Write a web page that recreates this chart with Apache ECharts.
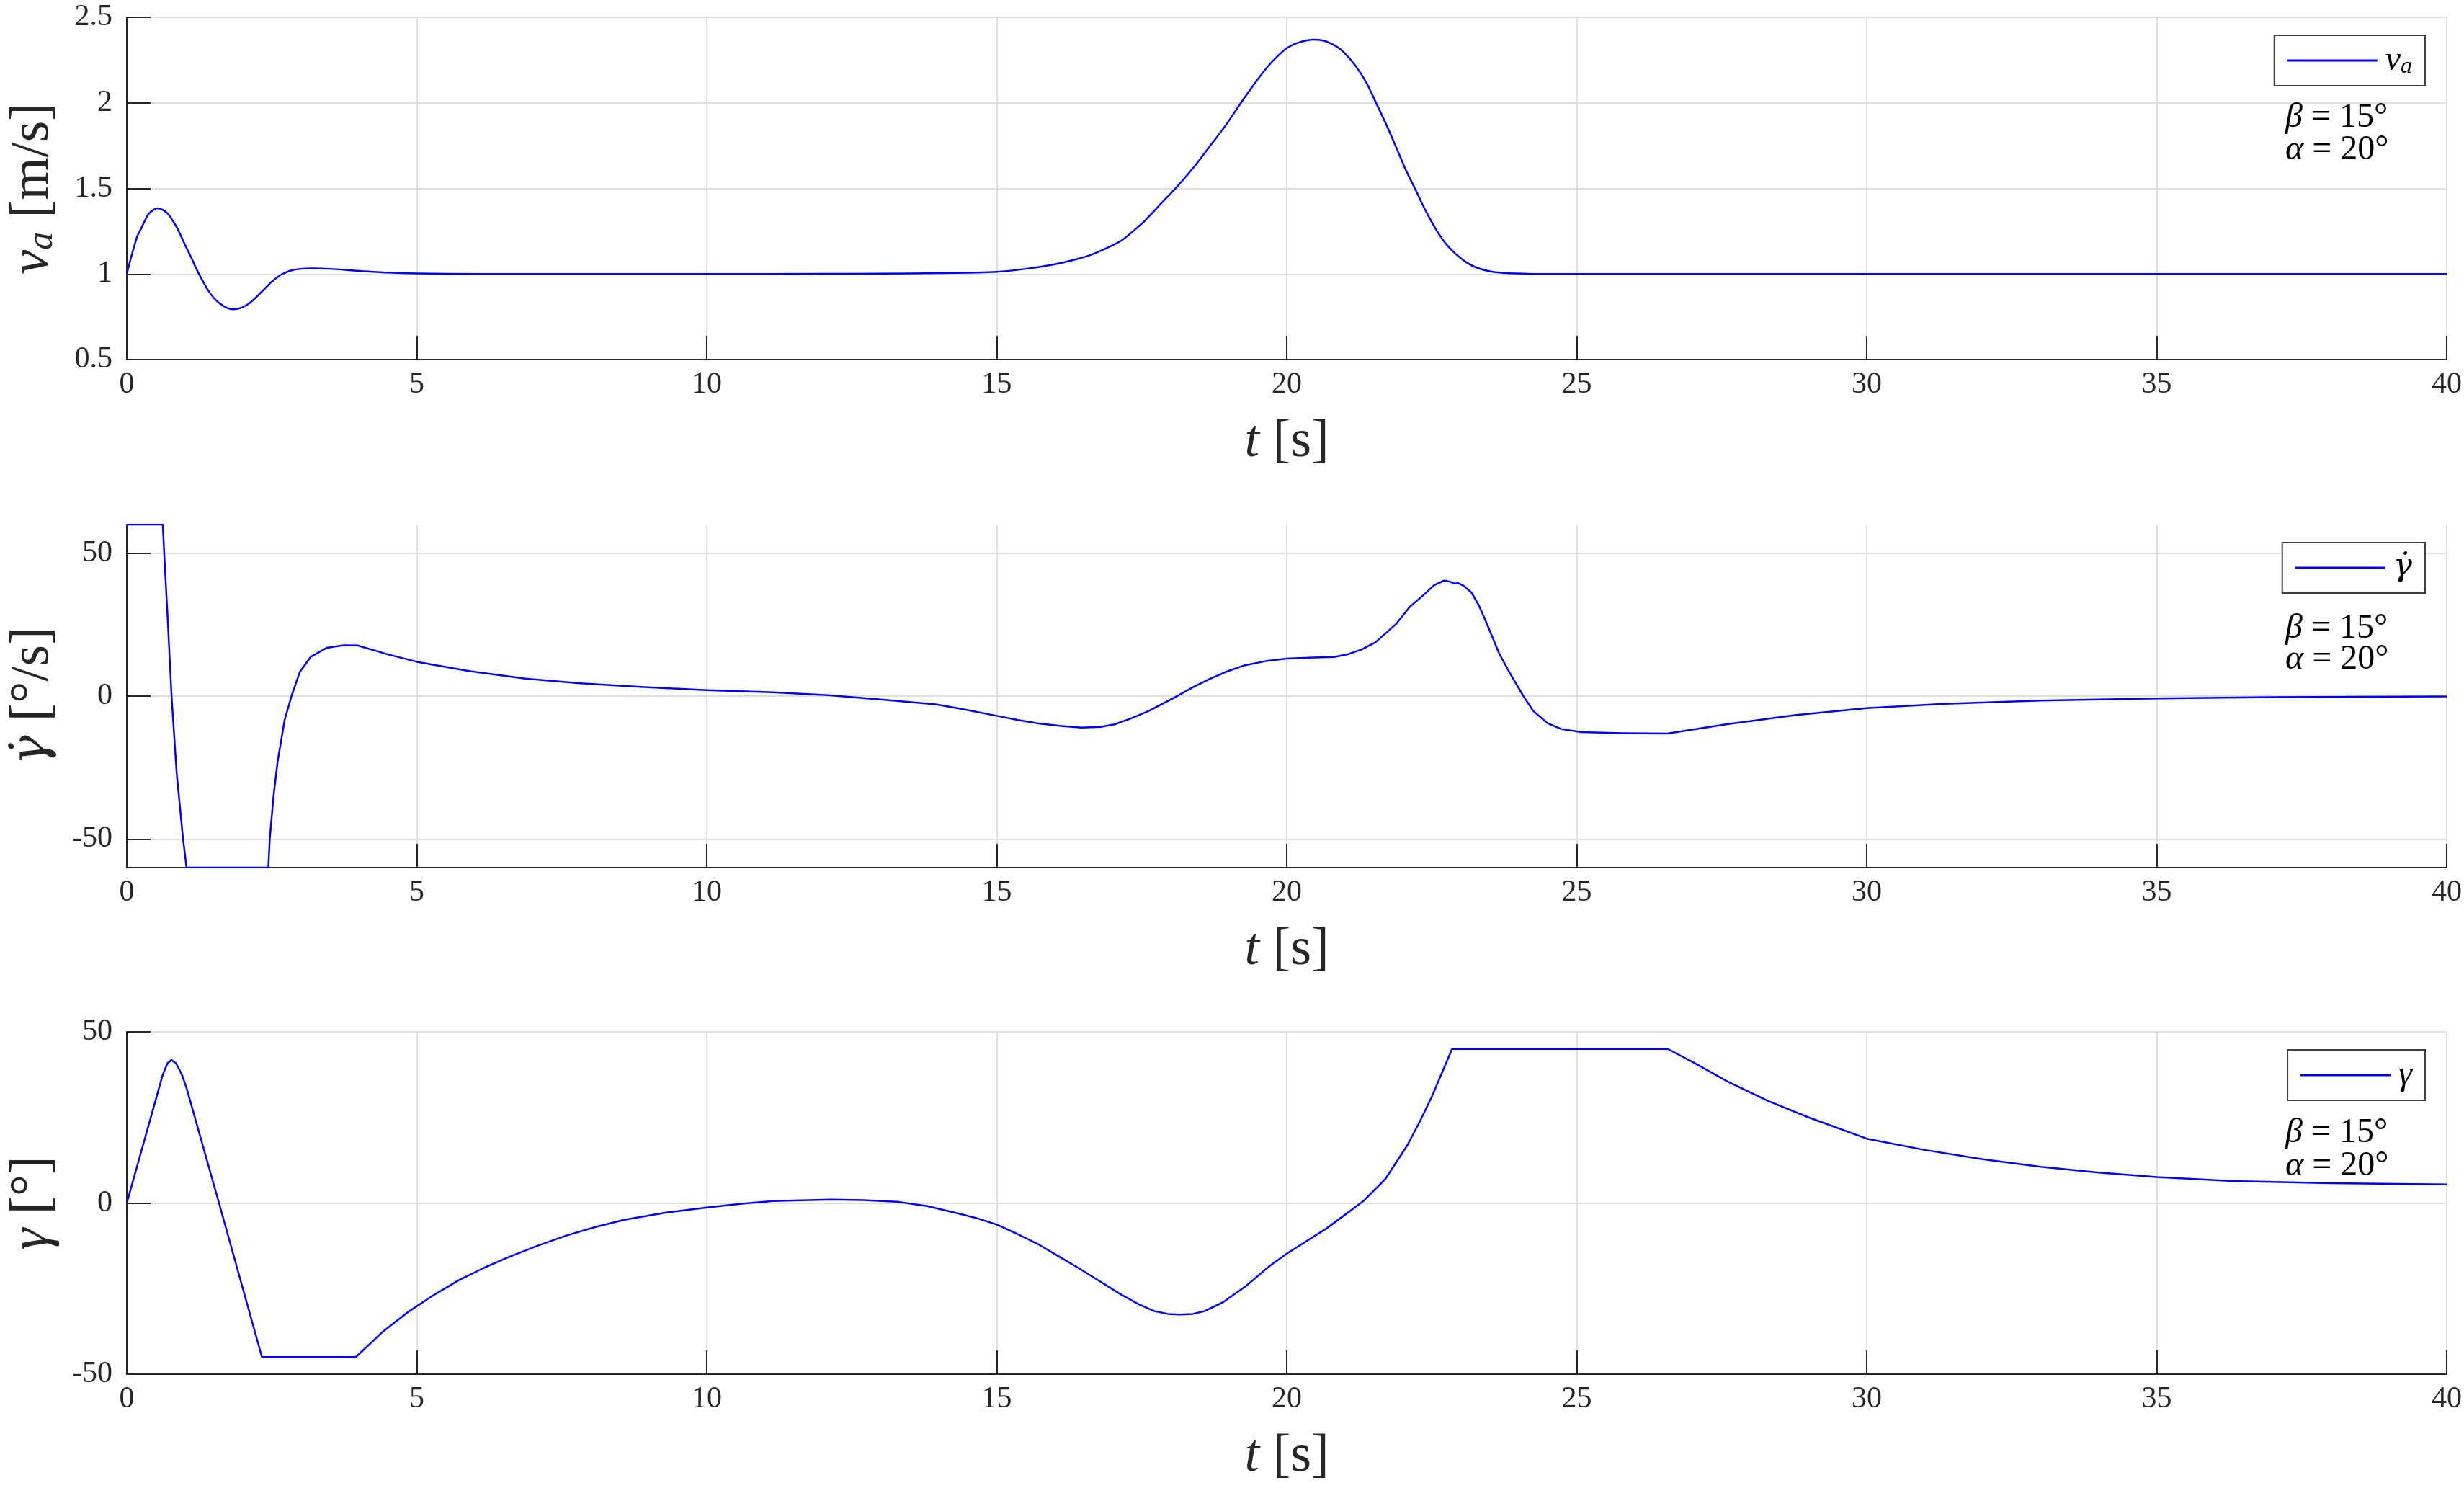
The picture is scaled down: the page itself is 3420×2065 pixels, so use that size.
<!DOCTYPE html>
<html><head><meta charset="utf-8">
<script src="https://cdn.jsdelivr.net/npm/echarts@6/dist/echarts.min.js"></script>
<style>html,body{margin:0;padding:0;background:#fff}#c{width:3420px;height:2065px}</style>
</head><body><div id="c"></div>
<script>
// ---- data: airspeed v_a [m/s] ----
const tVa=[0,0.06,0.12,0.18,0.25,0.31,0.37,0.45,0.53,0.61,0.70,0.78,0.87,0.95,1.03,1.12,1.2,1.3,1.4,1.5,1.61,1.72,1.84,1.95,2.07,2.17,2.27,2.38,2.48,2.58,2.68,2.85,3.0,3.2,3.5,4.0,4.5,5.0,6.0,8,10,12,13,14,15,15.5,15.97,16.3,16.6,16.9,17.16,17.35,17.55,17.8,18.1,18.4,18.66,18.95,19.21,19.45,19.68,19.85,20.0,20.2,20.47,20.65,20.87,21.0,21.19,21.37,21.54,21.72,21.9,22.05,22.21,22.35,22.49,22.62,22.76,22.92,23.08,23.25,23.47,23.7,23.95,24.27,26,30,35,40];
const va=[1.0,1.08,1.152,1.22,1.268,1.31,1.348,1.373,1.384,1.376,1.355,1.318,1.268,1.21,1.152,1.09,1.03,0.965,0.906,0.86,0.826,0.803,0.794,0.80,0.819,0.845,0.877,0.914,0.949,0.977,1.0,1.022,1.03,1.033,1.03,1.018,1.008,1.003,1.0,1.0,1.0,1.001,1.002,1.005,1.013,1.03,1.055,1.08,1.109,1.152,1.198,1.25,1.31,1.40,1.507,1.625,1.74,1.87,2.0,2.115,2.215,2.275,2.32,2.352,2.369,2.362,2.327,2.29,2.215,2.12,2.0,1.87,1.73,1.61,1.5,1.4,1.31,1.235,1.17,1.115,1.072,1.04,1.018,1.007,1.003,1.0,1.0,1.0,1.0,1.0];
// ---- data: gamma dot [deg/s] ----
const tGd=[0,0.62,0.66,0.70,0.772,0.86,0.97,1.03,2.44,2.465,2.53,2.6,2.72,2.84,2.98,3.17,3.45,3.74,3.98,4.5,5.0,5.92,6.87,7.82,8.86,10,11.14,12.09,13.0,13.95,14.42,15.0,15.37,15.72,16.08,16.46,16.79,17.03,17.32,17.62,17.86,18.09,18.39,18.68,18.98,19.28,19.63,20.0,20.46,20.82,21.05,21.29,21.53,21.88,22.12,22.36,22.54,22.71,22.82,22.89,22.96,23.05,23.19,23.31,23.42,23.54,23.66,23.84,24.08,24.25,24.49,24.73,25.08,25.79,26.56,27.57,28.76,30,31.34,33,35,37,40];
const gd=[60,60,44,29,0,-27,-50,-60,-60,-50,-35,-23,-8.5,0,8.3,13.7,16.9,17.8,17.7,14.6,12.0,8.7,6.1,4.5,3.2,2.1,1.35,0.3,-1.2,-2.9,-4.6,-6.9,-8.4,-9.6,-10.4,-11.0,-10.8,-9.9,-7.8,-5.2,-2.7,-0.2,3.2,6.1,8.7,10.8,12.2,13.1,13.5,13.7,14.6,16.3,18.8,25.1,31.2,35.4,38.8,40.4,40.0,39.4,39.5,38.6,36.1,31.8,26.8,20.9,15.0,8.3,0,-5.2,-9.4,-11.5,-12.6,-13.0,-13.1,-9.9,-6.7,-4.2,-2.7,-1.6,-0.8,-0.4,-0.1];
// ---- data: gamma [deg] ----
const tG=[0,0.62,0.70,0.77,0.85,0.95,1.03,1.59,2.33,3.95,4.4,4.87,5.3,5.73,6.15,6.58,7.08,7.58,8.08,8.58,9.3,10,10.6,11.14,12.14,12.7,13.28,13.8,14.27,14.65,15.0,15.35,15.7,16.05,16.41,16.77,17.12,17.45,17.72,17.95,18.15,18.38,18.58,18.9,19.3,19.69,20.0,20.68,21.33,21.7,22.08,22.3,22.5,22.7,22.85,26.57,27.0,27.6,28.3,29.0,30,31,32,33,34,35,36.3,38,40];
const g=[0,37.5,40.8,41.8,40.8,37.5,33.6,0,-45,-45,-37.8,-31.6,-26.8,-22.5,-19,-15.8,-12.5,-9.5,-7.0,-4.9,-2.8,-1.3,-0.2,0.56,0.98,0.85,0.35,-0.9,-2.8,-4.4,-6.3,-9,-11.9,-15.4,-19,-22.8,-26.5,-29.6,-31.6,-32.4,-32.6,-32.4,-31.6,-29.0,-24.2,-18.6,-14.8,-7.5,0.7,7,16.9,24,31,39,45,45,41.2,35.5,29.8,25,18.8,15.5,12.8,10.6,8.9,7.6,6.4,5.8,5.4];
// ---- ticks / labels ----
const xTicks={min:0,max:40,interval:5};
const yTicksTop={min:0.5,max:2.5,interval:0.5};
const yTicksMid={min:-60,max:60,values:[-50,0,50]};
const yTicksBot={min:-50,max:50,interval:50};
const seriesNames=['va','gdot','gamma'];
const legendLabels={va:'{i|v}{s|a}',gdot:'{d|\u03B3\u0307}',gamma:'{i|\u03B3}'};
const yNames=['{i|v}{s|a} [m/s]','{d|\u03B3\u0307} [\u00B0/s]','{i|\u03B3} [\u00B0]'];
const annoLines=['{i|\u03B2} = 15\u00B0','{i|\u03B1} = 20\u00B0'];

const FONT='"Liberation Serif", "DejaVu Serif", serif';
const DFONT='"DejaVu Serif", serif';
const TXT='#262626';
const tops=[24,728,1432];
const heights=[475,476,475];
const smoothing=[0.25,false,false];

const grid=tops.map((t,i)=>({left:170,right:22,top:t,height:heights[i],containLabel:false}));
const xAxis=[0,1,2].map(i=>({
  type:'value',gridIndex:i,min:xTicks.min,max:xTicks.max,interval:xTicks.interval,
  axisLine:{show:true,onZero:false,lineStyle:{color:TXT,width:2}},
  axisTick:{show:true,inside:true,length:33,lineStyle:{color:TXT,width:2}},
  splitLine:{show:true,lineStyle:{color:'#dfdfdf',width:2}},
  axisLabel:{fontSize:42,color:TXT,fontFamily:FONT,margin:14},
  name:'{i|t} [s]',nameLocation:'middle',nameGap:78,
  nameTextStyle:{fontSize:74,color:TXT,fontFamily:FONT,lineHeight:74,
    rich:{i:{fontSize:74,fontStyle:'italic',fontFamily:FONT,color:TXT,lineHeight:74}}}
}));
function yBase(i,extra){
  return Object.assign({
    type:'value',gridIndex:i,
    axisLine:{show:true,onZero:false,lineStyle:{color:TXT,width:2}},
    axisTick:{show:true,inside:true,length:33,lineStyle:{color:TXT,width:2}},
    splitLine:{show:true,lineStyle:{color:'#dfdfdf',width:2}},
    axisLabel:{fontSize:42,color:TXT,fontFamily:FONT,margin:20},
    name:yNames[i],nameLocation:'middle',nameRotate:90,nameGap:92,
    nameTextStyle:{fontSize:76,color:TXT,fontFamily:FONT,lineHeight:76,
      rich:{i:{fontSize:76,fontStyle:'italic',fontFamily:FONT,color:TXT,lineHeight:76},
            d:{fontSize:70,fontStyle:'italic',fontFamily:DFONT,color:TXT,lineHeight:76},
            s:{fontSize:50,fontStyle:'italic',fontFamily:FONT,color:TXT,verticalAlign:'bottom',lineHeight:50}}}
  },extra);
}
const yAxis=[
  yBase(0,{min:yTicksTop.min,max:yTicksTop.max,interval:yTicksTop.interval}),
  yBase(1,{min:yTicksMid.min,max:yTicksMid.max}),
  yBase(2,{min:yTicksBot.min,max:yTicksBot.max,interval:yTicksBot.interval})
];
yAxis[1].axisLabel.customValues=yTicksMid.values;
yAxis[1].axisTick.customValues=yTicksMid.values;

const pairs=[[tVa,va],[tGd,gd],[tG,g]];
const series=pairs.map((p,i)=>({
  name:seriesNames[i],type:'line',xAxisIndex:i,yAxisIndex:i,
  symbol:'none',showSymbol:false,smooth:smoothing[i],
  lineStyle:{color:'#0000ff',width:2.5,join:'round'},itemStyle:{color:'#0000ff'},
  data:p[0].map((t,k)=>[t,p[1][k]])
}));
const legendTops=[49,753,1457];
const legend=[0,1,2].map(i=>({
  data:[{name:seriesNames[i],icon:'rect'}],right:54,top:legendTops[i],orient:'horizontal',
  itemWidth:125,itemHeight:3,itemGap:10,padding:[10,18,10,18],
  borderColor:'#404040',borderWidth:2,backgroundColor:'#ffffff',selectedMode:false,
  formatter:n=>legendLabels[n],
  textStyle:{fontSize:46,fontFamily:FONT,color:'#000',lineHeight:50,padding:[0,0,0,6],
    rich:{i:{fontSize:48,fontStyle:'italic',fontFamily:FONT,color:'#000',lineHeight:50},
          d:{fontSize:44,fontStyle:'italic',fontFamily:DFONT,color:'#000',lineHeight:50},
          s:{fontSize:32,fontStyle:'italic',fontFamily:FONT,color:'#000',verticalAlign:'bottom',lineHeight:36}}}
}));
const annoY=[[163,208],[872,915],[1572,1618]];
const graphic=[];
annoY.forEach(ys=>ys.forEach((y,j)=>{
  graphic.push({type:'text',x:3172,y:y,z:100,style:{text:annoLines[j],fontSize:48,fontFamily:FONT,fill:'#000',verticalAlign:'middle',
    rich:{i:{fontSize:48,fontStyle:'italic',fontFamily:FONT,fill:'#000'}}}});
}));
const chart=echarts.init(document.getElementById('c'),null,{renderer:'canvas'});
chart.setOption({animation:false,backgroundColor:'#ffffff',grid,xAxis,yAxis,series,legend,graphic});
</script></body></html>
